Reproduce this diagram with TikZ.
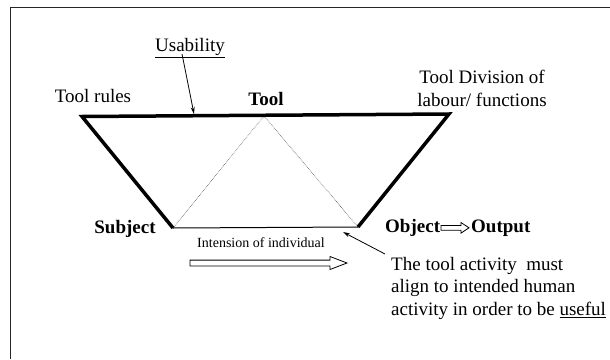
\documentclass[tikz,border=0pt]{standalone}
\usepackage{fontspec}
\setmainfont{Liberation Serif}
\usetikzlibrary{arrows.meta}
\begin{document}
\begin{tikzpicture}[x=1pt,y=-1pt,
  lbl/.style={inner sep=0pt, font=\fontsize{19}{22.5}\selectfont},
  blbl/.style={inner sep=0pt, font=\fontsize{19}{22.5}\selectfont\bfseries},
  small/.style={inner sep=0pt, font=\fontsize{14}{16}\selectfont},
  heavy/.style={line width=3.5pt, line join=miter},
  thinline/.style={line width=1pt},
  dotline/.style={line width=0.6pt, densely dotted, black!70},
  pointer/.style={line width=0.8pt, -{Stealth[length=7pt,width=4pt]}},
  hollow/.style={draw=black, line width=0.8pt, fill=white},
  frame/.style={line width=1pt, black!85}]
\useasboundingbox (0,0) rectangle (610,359);
% frame
\draw[frame] (10,359) |- (610,7.3);
% corners
\coordinate (tl) at (82,116.5);
\coordinate (tr) at (449,114);
\coordinate (bl) at (173,228);
\coordinate (br) at (358,227);
\coordinate (apex) at (264,116);
\coordinate (ua) at (194,114);
\coordinate (pt) at (343,232);
% lines
\draw[dotline] (bl) -- (apex) -- (br);
\draw[thinline] (bl) -- (br);
\draw[heavy] (bl) -- (tl) -- (tr) -- (br);
% labels
\node[lbl] (usab) at (190,48) {\underline{Usability}};
\node[lbl] (rules) at (93,96) {Tool rules};
\node[blbl] (tool) at (266,99) {Tool};
\node[lbl, align=center] (div) at (482,88.5) {Tool Division of\\labour/ functions};
\node[blbl] (subj) at (125,229) {Subject};
\node[blbl, anchor=west] (obj) at (385,228) {Object};
\node[blbl, anchor=west] (out) at (471,228) {Output};
\node[small] (intent) at (261,243) {Intension of individual};
\node[lbl, anchor=north west, align=left] (note) at (391,257) {The tool activity\ \ must\\align to intended human\\activity in order to be \underline{useful}};
% connectors
\draw[pointer] ([xshift=-8pt,yshift=4pt]usab.south) -- (ua);
\draw[pointer] ([xshift=-6pt,yshift=3pt]note.north west) -- (pt);
% hollow arrow object -> output
\draw[hollow] (441,225.4) -- (461,225.4) -- (461,222.5) -- (469,227.8) -- (461,233.1) -- (461,230.2) -- (441,230.2) -- cycle;
% big hollow arrow
\draw[hollow] (190,260.1) -- (330,260.1) -- (330,256.5) -- (347,263) -- (330,269.5) -- (330,265.9) -- (190,265.9) -- cycle;
\end{tikzpicture}
\end{document}
